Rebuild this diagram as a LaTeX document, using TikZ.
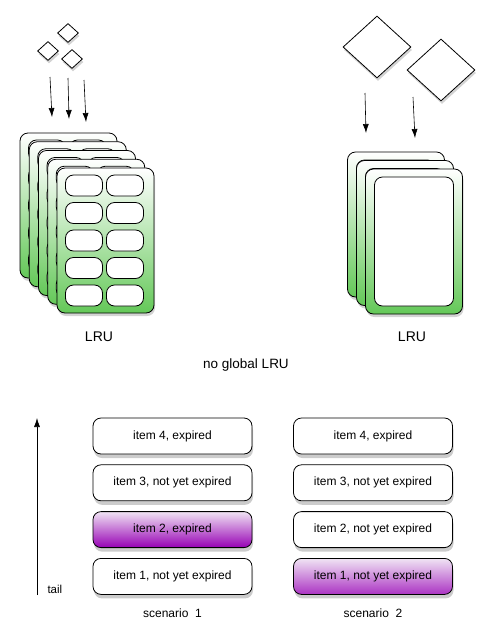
\documentclass[tikz,border=0pt]{standalone}
\usepackage{fontspec}
\setmainfont{Liberation Sans}
\usetikzlibrary{arrows.meta,positioning,shapes.geometric,shadows}
\definecolor{cardgreen}{RGB}{100,200,88}
\definecolor{itempurple}{RGB}{150,0,180}
\definecolor{itemlilac}{RGB}{240,228,244}

\begin{document}
\begin{tikzpicture}[x=1pt,y=-1pt,font=\fontsize{12}{14}\selectfont,
    card/.style={draw,line width=0.8pt,rounded corners=8pt,minimum width=97pt,minimum height=145pt,
      top color=white,bottom color=cardgreen,drop shadow={opacity=0.35,shadow xshift=1pt,shadow yshift=-3pt}},
    cell/.style={draw,line width=0.8pt,fill=white,rounded corners=8pt,minimum width=37pt,minimum height=21pt},
    slot/.style={draw,line width=0.8pt,fill=white,rounded corners=8pt,minimum width=79pt,minimum height=129pt},
    entry/.style={draw,diamond,inner sep=0pt,line width=0.8pt,fill=white,drop shadow={opacity=0.35,shadow xshift=1pt,shadow yshift=-3pt}},
    item/.style={draw,line width=0.8pt,rounded corners=8pt,minimum width=159pt,minimum height=36pt,fill=white,
      drop shadow={opacity=0.4,shadow xshift=1pt,shadow yshift=-4pt}},
    olditem/.style={item,top color=itemlilac,bottom color=itempurple},
    flow/.style={-{Latex[length=9pt,width=6pt]},line width=0.6pt}]
  \useasboundingbox (0,0) rectangle (496,630);

  % per-slab LRU: many small items
  \node[entry,minimum width=21pt,minimum height=19pt] (sa) at (48,51) {};
  \node[entry,minimum width=21pt,minimum height=19pt] (sb) at (68,33) {};
  \node[entry,minimum width=21pt,minimum height=19pt] (sc) at (72,59) {};
  \coordinate (la1) at (50,77);  \coordinate (lb1) at (52,117);
  \coordinate (la2) at (68,78);  \coordinate (lb2) at (69,119);
  \coordinate (la3) at (84,80);  \coordinate (lb3) at (86,122);
  \draw[flow] (la1)--(lb1); \draw[flow] (la2)--(lb2); \draw[flow] (la3)--(lb3);
  \foreach \i in {0,...,4} {
    \node[card] (lc\i) at ({105.5-9.25*(4-\i)},{240.5-8.75*(4-\i)}) {};
    \foreach \r in {1,...,5} {
      \node[cell] (lc\i-\r-1) at ([shift={(-21.5,{27.5*(\r-3)})}]lc\i.center) {};
      \node[cell] (lc\i-\r-2) at ([shift={(19.5,{27.5*(\r-3)})}]lc\i.center) {};
    }
  }
  \node[font=\fontsize{14}{16}\selectfont] (lru1) at (99,337) {LRU};

  % per-slab LRU: few large items
  \node[entry,minimum width=68pt,minimum height=62pt] (ba) at (377,47) {};
  \node[entry,minimum width=68pt,minimum height=62pt] (bb) at (441,70) {};
  \coordinate (ra1) at (365,93);  \coordinate (rb1) at (366,133);
  \coordinate (ra2) at (413,97);  \coordinate (rb2) at (415,138);
  \draw[flow] (ra1)--(rb1); \draw[flow] (ra2)--(rb2);
  \foreach \i in {0,1,2} {
    \node[card] (rc\i) at ({414-9*(2-\i)},{241.5-8.5*(2-\i)}) {};
    \node[slot] (rc\i in) at (rc\i.center) {};
  }
  \node[font=\fontsize{14}{16}\selectfont] (lru2) at (412,337) {LRU};
  \node[font=\fontsize{13.5}{16}\selectfont] (noglobal) at (246,365) {no global LRU};

  % tail of the LRU
  \coordinate (tailend) at (37,595);
  \coordinate (headend) at (37,418);
  \draw[flow] (tailend)--(headend);
  \node[anchor=west,font=\fontsize{11.5}{14}\selectfont] (tail) at (44,589) {tail};

  % scenario 1
  \node[item] (s1i4) at (172.5,436) {item 4, expired};
  \node[item,below=10pt of s1i4] (s1i3) {item 3, not yet expired};
  \node[olditem,below=10pt of s1i3] (s1i2) {item 2, expired};
  \node[item,below=10pt of s1i2] (s1i1) {item 1, not yet expired};
  \node (s1) at (172.5,613) {scenario\ \ 1};

  % scenario 2
  \node[item] (s2i4) at (373,436) {item 4, expired};
  \node[item,below=10pt of s2i4] (s2i3) {item 3, not yet expired};
  \node[item,below=10pt of s2i3] (s2i2) {item 2, not yet expired};
  \node[olditem,bottom color=itempurple!80,below=10pt of s2i2] (s2i1) {item 1, not yet expired};
  \node (s2) at (373,613) {scenario\ \ 2};
\end{tikzpicture}
\end{document}
